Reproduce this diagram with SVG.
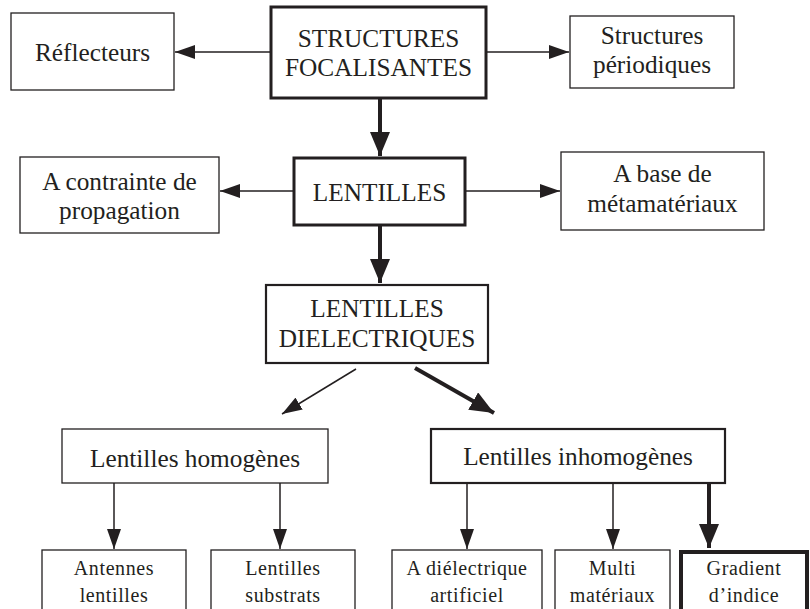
<svg xmlns="http://www.w3.org/2000/svg" width="810" height="609" viewBox="0 0 810 609">
<defs>
<marker id="ahs" viewBox="0 0 20 14" refX="20" refY="7" markerWidth="20" markerHeight="14" markerUnits="userSpaceOnUse" orient="auto"><path d="M0,0 L20,7 L0,14 z" fill="#231f20"/></marker>
<marker id="ahb" viewBox="0 0 24 20" refX="24" refY="10" markerWidth="24" markerHeight="20" markerUnits="userSpaceOnUse" orient="auto"><path d="M0,0 L24,10 L0,20 z" fill="#231f20"/></marker>
</defs>
<style>
rect{fill:#fff;stroke:#231f20}
.t1{stroke-width:1.3}
.t2{stroke-width:2.2}
.t3{stroke-width:3}
.t4{stroke-width:4}
text{font-family:'Liberation Serif','Tinos','DejaVu Serif',serif;fill:#231f20;text-anchor:middle}
.big{font-size:25.3px}
.small{font-size:20px;letter-spacing:0.6px}
.c line{stroke:#231f20;fill:none}
</style>
<g class="c" id="connectors">
<line x1="271" y1="52" x2="175" y2="52" stroke-width="1.5" marker-end="url(#ahs)"/>
<line x1="486" y1="52" x2="569" y2="52" stroke-width="1.5" marker-end="url(#ahs)"/>
<line x1="380" y1="98" x2="380" y2="156" stroke-width="4" marker-end="url(#ahb)"/>
<line x1="294" y1="191" x2="220" y2="191" stroke-width="1.5" marker-end="url(#ahs)"/>
<line x1="465" y1="191" x2="560" y2="191" stroke-width="1.5" marker-end="url(#ahs)"/>
<line x1="380" y1="225" x2="380" y2="283" stroke-width="4" marker-end="url(#ahb)"/>
<line x1="356" y1="369" x2="282" y2="414" stroke-width="1.5" marker-end="url(#ahs)"/>
<line x1="415" y1="368" x2="494" y2="413" stroke-width="4" marker-end="url(#ahb)"/>
<line x1="114" y1="483" x2="114" y2="549" stroke-width="1.5" marker-end="url(#ahs)"/>
<line x1="280" y1="483" x2="280" y2="549" stroke-width="1.5" marker-end="url(#ahs)"/>
<line x1="467" y1="483" x2="467" y2="549" stroke-width="1.5" marker-end="url(#ahs)"/>
<line x1="613" y1="483" x2="613" y2="549" stroke-width="1.5" marker-end="url(#ahs)"/>
<line x1="709" y1="483" x2="709" y2="548" stroke-width="4" marker-end="url(#ahb)"/>
</g>
<g id="structures"><rect class="t3" x="271" y="7" width="215" height="91"/><text class="big" x="378.5" y="47">STRUCTURES</text><text class="big" x="378.5" y="76">FOCALISANTES</text></g>
<g id="reflecteurs"><rect class="t1" x="11" y="13" width="163" height="77"/><text class="big" x="92.5" y="61">Réflecteurs</text></g>
<g id="periodiques"><rect class="t1" x="570" y="16" width="164" height="72"/><text class="big" x="652" y="44">Structures</text><text class="big" x="652" y="73">périodiques</text></g>
<g id="lentilles"><rect class="t3" x="294" y="158" width="171" height="67"/><text class="big" x="379.5" y="201">LENTILLES</text></g>
<g id="contrainte"><rect class="t1" x="20" y="157" width="199" height="76"/><text class="big" x="119.5" y="190">A contrainte de</text><text class="big" x="119.5" y="219">propagation</text></g>
<g id="metamateriaux"><rect class="t1" x="561" y="152" width="203" height="78"/><text class="big" x="662.5" y="182">A base de</text><text class="big" x="662.5" y="212">métamatériaux</text></g>
<g id="dielectriques"><rect class="t2" x="266" y="285" width="222" height="78"/><text class="big" x="377" y="317">LENTILLES</text><text class="big" x="377" y="347">DIELECTRIQUES</text></g>
<g id="homogenes"><rect class="t1" x="62" y="429" width="266" height="54"/><text class="big" x="195" y="467">Lentilles homogènes</text></g>
<g id="inhomogenes"><rect class="t2" x="431" y="429" width="294" height="54"/><text class="big" x="578" y="465">Lentilles inhomogènes</text></g>
<g id="antennes"><rect class="t1" x="42" y="550" width="144" height="70"/><text class="small" x="114" y="575">Antennes</text><text class="small" x="114" y="602">lentilles</text></g>
<g id="substrats"><rect class="t1" x="211" y="550" width="144" height="70"/><text class="small" x="283" y="575">Lentilles</text><text class="small" x="283" y="602">substrats</text></g>
<g id="artificiel"><rect class="t1" x="392" y="550" width="150" height="70"/><text class="small" x="467" y="575">A diélectrique</text><text class="small" x="467" y="602">artificiel</text></g>
<g id="multi"><rect class="t1" x="555" y="550" width="115" height="70"/><text class="small" x="612.5" y="575">Multi</text><text class="small" x="612.5" y="602">matériaux</text></g>
<g id="gradient"><rect class="t4" x="681" y="552" width="126" height="70"/><text class="small" x="744" y="575">Gradient</text><text class="small" x="744" y="602">d’indice</text></g>
</svg>
